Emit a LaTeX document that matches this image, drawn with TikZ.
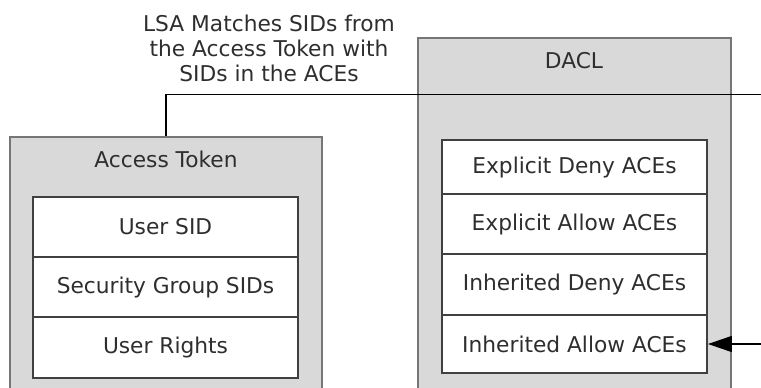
\documentclass[tikz,border=0pt]{standalone}
\usepackage{fontspec}
\setmainfont{DejaVu Sans}
\usetikzlibrary{arrows.meta}
\definecolor{panelgray}{HTML}{D9D9D9}
\definecolor{framegray}{HTML}{767676}
\definecolor{cellline}{HTML}{404040}
\definecolor{textgray}{HTML}{2E2E2E}
\tikzset{
  panel/.style={draw=framegray, line width=2pt, fill=panelgray, inner sep=0pt},
  cell/.style={draw=cellline, line width=1.4pt, fill=white, minimum width=198.75pt, inner sep=0pt, text=textgray},
  caption/.style={text=textgray, inner sep=0pt},
  link/.style={line width=1.1pt, black}
}
\begin{document}
\begin{tikzpicture}[x=0.75pt,y=-0.75pt,font=\fontsize{16.3}{18.75}\selectfont]
   \useasboundingbox (0,0) rectangle (761,387);
   \clip (0,0) rectangle (761,387);
   % access token
   \node [panel, minimum width=234pt, minimum height=197.25pt] (token) at (166,268.5) {};
   \node [caption] (tokentitle) at (166,159) {Access Token};
   \node [cell, minimum height=45pt] (usersid) at (165.5,227) {User SID};
   \node [cell, minimum height=45pt] (groupsids) at (165.5,287) {Security Group SIDs};
   \node [cell, minimum height=45.75pt] (rights) at (165.5,347.5) {User Rights};
   % dacl
   \node [panel, minimum width=234.75pt, minimum height=271.5pt] (dacl) at (574.5,219) {};
   \node [caption] (dacltitle) at (574,61) {DACL};
   \node [cell, minimum height=40.5pt] (expdeny) at (574.5,167) {Explicit Deny ACEs};
   \node [cell, minimum height=45pt] (expallow) at (574.5,224) {Explicit Allow ACEs};
   \node [cell, minimum height=45.75pt] (inhdeny) at (574.5,284.5) {Inherited Deny ACEs};
   \node [cell, minimum height=43.5pt] (inhallow) at (574.5,344) {Inherited Allow ACEs};
   % matching line and label
   \node [caption, align=center] (lsa) at (269,48) {LSA Matches SIDs from\\the Access Token with\\SIDs in the ACEs};
   \coordinate (matchend) at (761,94.5);
   \coordinate (rightin) at (761,344);
   \draw [link] (token.north) |- (matchend);
   \draw [link, -{Triangle[length=18pt,width=12pt]}] (rightin) -- (inhallow.east);
\end{tikzpicture}
\end{document}
